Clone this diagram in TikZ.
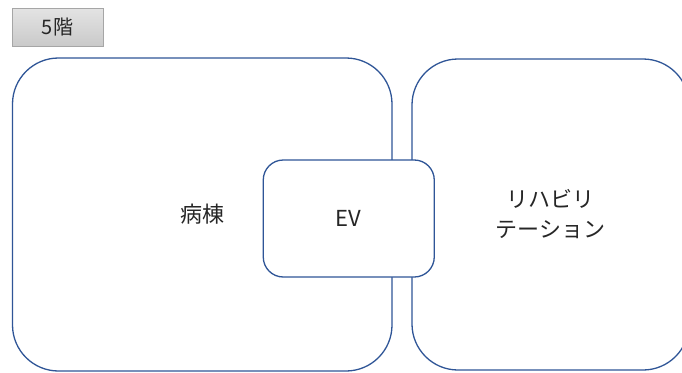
\documentclass[tikz,border=0pt]{standalone}
\usepackage{fontspec}
\setmainfont{Noto Sans CJK JP}
\definecolor{boxblue}{HTML}{2F5597}
\definecolor{txt}{HTML}{262626}
\definecolor{lblborder}{HTML}{A6A6A6}
\begin{document}
\begin{tikzpicture}[x=1pt,y=-1pt,
  room/.style={draw=boxblue, line width=1.3pt, rectangle, rounded corners=46pt, inner sep=0pt, font=\fontsize{22}{30}\selectfont, text=txt, align=center},
  evbox/.style={draw=boxblue, line width=1.3pt, rectangle, rounded corners=20pt, fill=white, inner sep=0pt, font=\fontsize{22}{30}\selectfont, text=txt},
  floorlbl/.style={draw=lblborder, line width=0.8pt, rectangle, top color=gray!22, bottom color=gray!42, inner sep=0pt, font=\fontsize{20}{24}\selectfont, text=txt}]
\clip (0,0) rectangle (682,372);
\fill[white] (0,0) rectangle (682,372);
\node[floorlbl, minimum width=91pt, minimum height=38pt] (floor) at (57.5,27.5) {5階};
\node[room, minimum width=379.5pt, minimum height=313pt] (ward) at (202.25,214.5) {病棟};
\node[room, minimum width=277pt, minimum height=311pt] (rehab) at (550.5,214.5) {リハビリ\\テーション};
\node[evbox, minimum width=171pt, minimum height=117pt] (ev) at (348.75,218.5) {EV};
\end{tikzpicture}
\end{document}
